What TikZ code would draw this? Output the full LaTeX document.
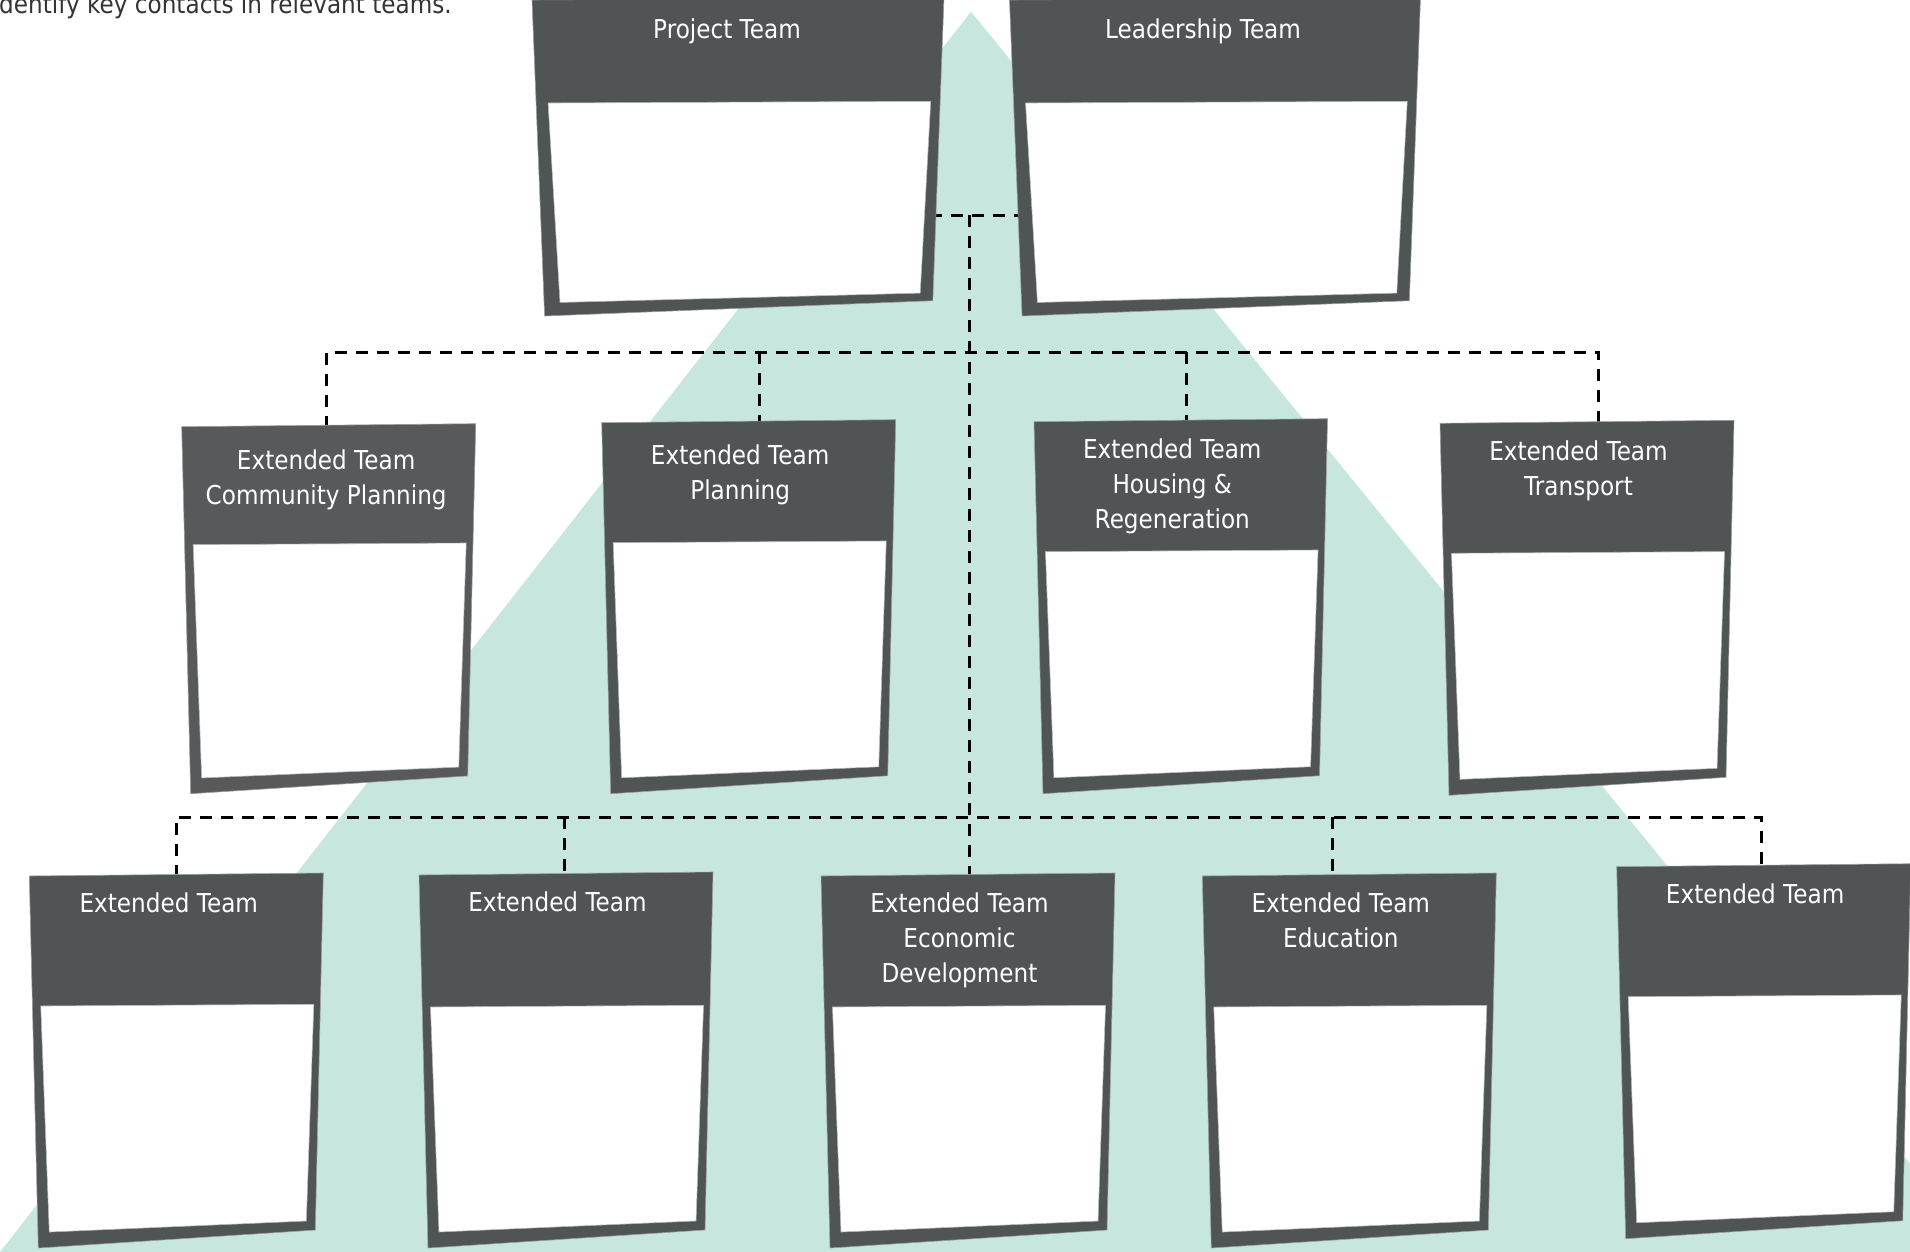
\documentclass[tikz,border=0pt]{standalone}
\usepackage{fontspec}
\setmainfont{DejaVu Sans}[FakeStretch=0.89]
\definecolor{mint}{HTML}{C6E6DE}
\definecolor{boxdark}{HTML}{505455}
\definecolor{boxdarkb}{HTML}{58595B}
\definecolor{edgegray}{HTML}{9A9D9E}
\definecolor{toptext}{HTML}{333333}
\tikzset{
  darkpanel/.style={fill=boxdark, draw=edgegray, line width=0.6pt},
  whitepanel/.style={fill=white, draw=edgegray!70, line width=0.6pt},
  lab/.style={text=white, align=center, inner sep=0pt, anchor=north,
    font=\fontsize{26}{35}\selectfont},
  conn/.style={draw=black, line width=3pt, dash pattern=on 12pt off 9pt},
}
% #1 name, #2 x, #3 y, #4 width, #5 height, #6 header height, #7 first baseline, #8 text, #9 text x shift
\newcommand{\teambox}[9]{%
  \begin{scope}[shift={(#2,#3)}]
    \pgfmathsetmacro\kx{#4/294}
    \pgfmathsetmacro\ky{#5/372}
    \path[darkpanel] (0,0) -- (#4,-3) -- ({#4-8*\kx},{#5-18*\ky}) -- ({9*\kx},#5) -- cycle;
    \path[whitepanel] ({11.5*\kx},#6) -- ({#4-9.5*\kx},{#6-1.7}) -- ({#4-17*\kx},{#5-27*\ky}) -- ({20*\kx},{#5-16*\ky}) -- cycle;
    \node[lab] (#1) at ({#4*0.471+#9},{#7-20}) {#8};
  \end{scope}}
\begin{document}
\begin{tikzpicture}[x=1pt,y=-1pt]
\useasboundingbox (0,0) rectangle (1910,1251);
% background triangle
\fill[mint] (971,11.7) -- (0,1252) -- (1982,1252) -- cycle;
% cut-off introductory text
\node[anchor=base west, inner sep=0pt, text=toptext, font=\fontsize{26}{35}\selectfont] (intro) at (-1,13) {dentify key contacts in relevant teams.};
% connector coordinates
\coordinate (pt-r) at (930,215);
\coordinate (lt-l) at (1020,215);
\coordinate (hub) at (969.3,215);
\coordinate (mid) at (969.3,352);
\coordinate (bus3) at (969.3,817);
\coordinate (cp-in) at (326.5,428);
\coordinate (pl-in) at (759,424);
\coordinate (hr-in) at (1186.7,422);
\coordinate (tr-in) at (1598.3,423);
\coordinate (b1-in) at (176.3,877);
\coordinate (b2-in) at (564,876);
\coordinate (ec-in) at (969.3,877);
\coordinate (ed-in) at (1332.6,876);
\coordinate (br-in) at (1761.4,868);
% connectors
\draw[conn] (pt-r) -- (lt-l);
\draw[conn] (hub) -- (ec-in);
\draw[conn] (cp-in) -- (cp-in |- mid) -- (tr-in |- mid) -- (tr-in);
\draw[conn] (pl-in |- mid) -- (pl-in);
\draw[conn] (hr-in |- mid) -- (hr-in);
\draw[conn] (b1-in) -- (b1-in |- bus3) -- (br-in |- bus3) -- (br-in);
\draw[conn] (b2-in |- bus3) -- (b2-in);
\draw[conn] (ed-in |- bus3) -- (ed-in);
% boxes
\teambox{pt}{532}{0}{412}{316}{103}{39}{Project Team}{1}
\teambox{lt}{1009.5}{0}{411}{316}{103}{39}{Leadership Team}{0}
\begin{scope}[darkpanel/.append style={fill=boxdarkb}]
\teambox{cp}{181.7}{426.7}{294}{367}{118}{43}{Extended Team\\Community Planning}{6}
\end{scope}
\teambox{pl}{601.7}{422.7}{294}{371}{120}{42}{Extended Team\\Planning}{0}
\teambox{hr}{1034}{421.7}{293.5}{372}{130}{37}{Extended Team\\Housing \&\\Regeneration}{0}
\teambox{tr}{1440}{423.3}{294}{372}{130}{37}{Extended Team\\Transport}{0}
\teambox{b1}{29.3}{876}{294}{372}{130}{37}{Extended Team}{1}
\teambox{b2}{419}{875}{294}{373}{132}{37}{Extended Team}{0}
\teambox{ec}{821}{876}{294}{372}{131}{37}{Extended Team\\Economic\\Development}{0}
\teambox{ed}{1202.3}{876}{294}{372}{131}{37}{Extended Team\\Education}{0}
\teambox{br}{1616.7}{866.7}{294}{372}{130}{37}{Extended Team}{0}
\end{tikzpicture}
\end{document}
